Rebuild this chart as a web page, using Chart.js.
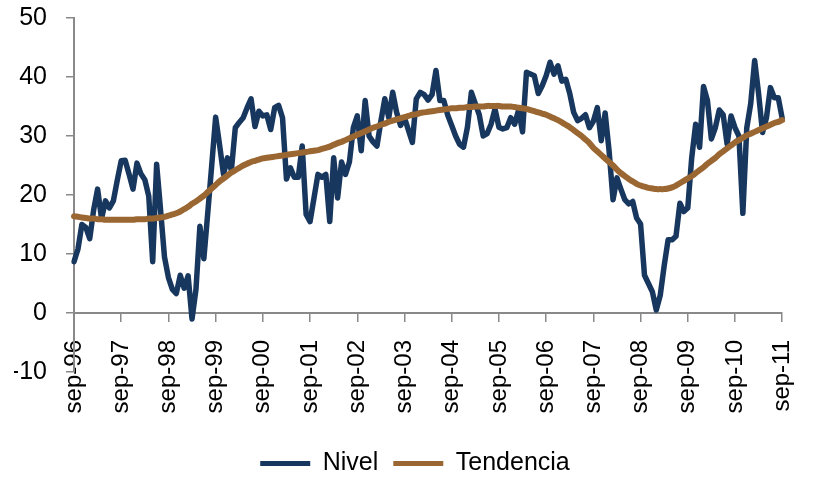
<!DOCTYPE html>
<html>
<head>
<meta charset="utf-8">
<script src="https://cdn.jsdelivr.net/npm/chart.js@4.4.0/dist/chart.umd.min.js"></script>
<style>
  body { margin: 0; background: #fff; }
  #wrap { width: 830px; height: 477px; position: relative; }
</style>
</head>
<body>
<div id="wrap"><canvas id="myLineChart"></canvas></div>
<script>
// monthly series, sep-96 .. sep-11
var nivel = [
  8.7, 10.8, 15.0, 14.5, 12.6, 17.5, 21.0, 16.0, 19.0, 17.8, 19.0, 22.5,
  25.8, 25.9, 23.5, 21.0, 25.4, 23.6, 22.6, 19.8, 8.7, 25.2, 17.5, 9.5,
  6.0, 4.0, 3.3, 6.4, 4.2, 6.3, -1.0, 4.0, 14.7, 9.2, 17.0, 25.0,
  33.2, 28.5, 23.5, 26.3, 24.2, 31.4, 32.3, 33.1, 34.8, 36.3, 31.6, 34.2,
  33.4, 33.6, 31.1, 34.8, 35.2, 33.1, 22.7, 24.6, 23.0, 23.0, 28.3, 16.7,
  15.5, 19.5, 23.5, 23.0, 23.5, 15.5, 26.3, 19.5, 25.6, 23.5, 25.6, 31.4,
  33.4, 27.5, 36.0, 30.0, 29.0, 28.3, 32.5, 36.3, 33.1, 37.4, 34.0, 31.8,
  33.1, 31.0, 28.9, 36.3, 37.4, 37.0, 36.1, 37.0, 41.1, 36.0, 36.0, 33.5,
  31.8, 30.0, 28.6, 28.1, 31.5, 37.4, 35.5, 33.6, 30.0, 30.4, 32.0, 34.6,
  31.5, 31.2, 31.4, 33.1, 32.0, 34.4, 30.7, 40.8, 40.5, 40.2, 37.2, 38.5,
  40.2, 42.5, 40.5, 41.9, 39.3, 39.6, 37.2, 34.0, 32.6, 33.0, 33.6, 31.4,
  32.5, 34.8, 29.2, 33.9, 27.5, 19.2, 22.9, 21.0, 19.2, 18.5, 18.9, 16.1,
  15.1, 6.4, 5.0, 3.6, 0.5, 3.0, 8.0, 12.4, 12.4, 13.0, 18.6, 17.2,
  17.8, 26.3, 32.0, 28.1, 38.4, 36.0, 29.5, 31.4, 34.4, 33.6, 28.6, 33.4,
  31.4, 30.0, 16.9, 31.4, 35.5, 42.8, 37.2, 30.6, 33.1, 38.2, 36.5, 36.5,
  33.0
];
var tendencia = [
  16.4, 16.3, 16.2, 16.1, 16.0, 16.0, 15.9, 15.9, 15.8, 15.8, 15.8, 15.8,
  15.8, 15.8, 15.8, 15.8, 15.9, 15.9, 15.9, 16.0, 16.0, 16.1, 16.2, 16.3,
  16.5, 16.7, 16.9, 17.2, 17.6, 18.0, 18.5, 18.9, 19.4, 19.9, 20.5, 21.1,
  21.7, 22.3, 22.8, 23.3, 23.8, 24.2, 24.6, 25.0, 25.3, 25.6, 25.8, 26.0,
  26.2, 26.3, 26.4, 26.5, 26.6, 26.7, 26.8, 26.9, 27.0, 27.1, 27.2, 27.3,
  27.4, 27.5, 27.6, 27.8, 28.0, 28.2, 28.5, 28.8, 29.0, 29.3, 29.6, 29.9,
  30.2, 30.5, 30.8, 31.1, 31.4, 31.6, 31.9, 32.1, 32.4, 32.6, 32.8, 33.0,
  33.2, 33.4, 33.6, 33.7, 33.9, 34.0, 34.1, 34.2, 34.3, 34.4, 34.5, 34.6,
  34.7, 34.7, 34.8, 34.8, 34.9, 34.9, 35.0, 35.0, 35.0, 35.1, 35.1, 35.1,
  35.1, 35.0, 35.0, 35.0, 34.9, 34.8, 34.7, 34.6, 34.4, 34.2, 34.0, 33.8,
  33.6, 33.3, 33.0, 32.7, 32.3, 31.9, 31.5, 31.0, 30.5, 30.0, 29.4, 28.8,
  28.0, 27.4, 26.8, 26.2, 25.6, 25.0, 24.3, 23.7, 23.2, 22.7, 22.3, 21.9,
  21.6, 21.4, 21.2, 21.1, 21.0, 21.0, 21.0, 21.1, 21.3, 21.6, 22.0, 22.4,
  22.8, 23.2, 23.7, 24.2, 24.7, 25.3, 25.8, 26.3, 26.9, 27.4, 27.9, 28.4,
  28.9, 29.3, 29.7, 30.1, 30.4, 30.7, 31.0, 31.3, 31.6, 31.9, 32.2, 32.4,
  32.7
];
var mesesCortos = ['ene', 'feb', 'mar', 'abr', 'may', 'jun', 'jul', 'ago', 'sep', 'oct', 'nov', 'dic'];
var anioInicio = 1996, mesInicio = 8; // sep-96

var labels = [];
for (var i = 0; i < nivel.length; i++) {
  var m = mesInicio + i;
  var yy = String(anioInicio + Math.floor(m / 12)).slice(2);
  labels.push(mesesCortos[m % 12] + '-' + yy);
}

var gris = '#898989';
Chart.defaults.font.family = "'Liberation Sans', Arial, sans-serif";
Chart.defaults.color = '#000';

// move the legend down a bit, closer to the bottom edge like the original
var bajarLeyenda = {
  id: 'bajarLeyenda',
  afterLayout: function (chart) {
    if (chart.legend) { chart.legend.top += 9; chart.legend.bottom += 9; }
  }
};

var ctx = document.getElementById('myLineChart').getContext('2d');
var myLineChart = new Chart(ctx, {
  type: 'line',
  data: {
    labels: labels,
    datasets: [{
      label: 'Nivel',
      data: nivel,
      borderColor: '#17375E',
      backgroundColor: '#17375E',
      borderWidth: 5.5,
      pointRadius: 0,
      tension: 0,
      borderJoinStyle: 'round',
      borderCapStyle: 'round',
      order: 2
    }, {
      label: 'Tendencia',
      data: tendencia,
      borderColor: '#9A6632',
      backgroundColor: '#9A6632',
      borderWidth: 6,
      pointRadius: 0,
      tension: 0.4,
      borderCapStyle: 'round',
      order: 1
    }]
  },
  plugins: [bajarLeyenda],
  options: {
    responsive: true,
    maintainAspectRatio: false,
    animation: false,
    layout: { padding: { top: 0, right: 14, left: 14, bottom: 0 } },
    scales: {
      x: {
        type: 'category',
        position: { y: 0 }, // axis crosses at zero
        offset: false,
        grid: { display: true, drawOnChartArea: false, drawTicks: true, tickLength: 8, color: gris, lineWidth: 1.5 },
        border: { display: true, color: gris, width: 2 },
        ticks: {
          autoSkip: false,
          minRotation: 90,
          maxRotation: 90,
          padding: 19,
          font: { size: 24 },
          callback: function (v, idx) { return idx % 12 === 0 ? labels[idx] : null; }
        }
      },
      xPad: {
        type: 'linear',
        position: 'bottom',
        display: true,
        grid: { display: false },
        border: { display: false },
        ticks: { display: false },
        afterFit: function (s) { s.height = 55; }
      },
      y: {
        min: -10,
        max: 50,
        ticks: { stepSize: 10, padding: 19, font: { size: 25 } },
        grid: { display: true, drawOnChartArea: false, drawTicks: true, tickLength: 8, color: gris, lineWidth: 1.5 },
        border: { display: true, color: gris, width: 2 },
        afterFit: function (s) { s.width = 60; s.paddingTop = 18; s.paddingBottom = 0; }
      }
    },
    plugins: {
      tooltip: { enabled: false },
      legend: {
        display: true,
        position: 'bottom',
        labels: {
          boxWidth: 50,
          boxHeight: 5,
          padding: 15,
          font: { size: 25, lineHeight: 1 },
          sort: function (a, b) { return a.datasetIndex - b.datasetIndex; },
          generateLabels: function (chart) {
            var items = Chart.defaults.plugins.legend.labels.generateLabels(chart);
            items.forEach(function (it) { it.lineWidth = 0; });
            return items;
          }
        }
      }
    }
  }
});
</script>
</body>
</html>
